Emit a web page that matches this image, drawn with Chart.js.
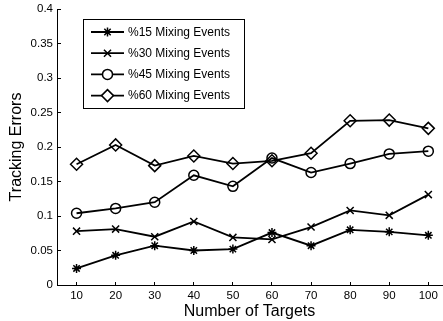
<!DOCTYPE html>
<html>
<head>
<meta charset="utf-8">
<script src="https://cdn.jsdelivr.net/npm/chart.js@4/dist/chart.umd.min.js"></script>
<style>
  html, body { margin: 0; padding: 0; background: #fff; }
  #wrap { width: 443px; height: 321px; }
</style>
</head>
<body>
<div id="wrap"><canvas id="errChart" width="443" height="321"></canvas></div>
<script>
const targets = [10, 20, 30, 40, 50, 60, 70, 80, 90, 100];
const mix15 = [0.024, 0.043, 0.057, 0.050, 0.052, 0.076, 0.057, 0.080, 0.077, 0.072];
const mix30 = [0.078, 0.081, 0.070, 0.092, 0.069, 0.066, 0.084, 0.108, 0.101, 0.131];
const mix45 = [0.104, 0.111, 0.120, 0.159, 0.143, 0.184, 0.163, 0.176, 0.190, 0.194];
const mix60 = [0.175, 0.203, 0.173, 0.187, 0.176, 0.180, 0.191, 0.238, 0.239, 0.227];
const seriesNames = ['%15 Mixing Events', '%30 Mixing Events', '%45 Mixing Events', '%60 Mixing Events'];
const yTicks = [0, 0.05, 0.1, 0.15, 0.2, 0.25, 0.3, 0.35, 0.4];

const FONT = 'Liberation Sans, Arial, Helvetica, sans-serif';

function makeSet(label, values, style, radius) {
    return {
        label: label,
        data: values.map((v, i) => ({ x: targets[i], y: v })),
        borderColor: '#000',
        borderWidth: 1.8,
        pointStyle: style,
        pointRadius: radius,
        pointHoverRadius: radius,
        pointBorderColor: '#000',
        pointBackgroundColor: 'rgba(0,0,0,0)',
        pointBorderWidth: 1.5,
        tension: 0
    };
}

const datasets = [
    makeSet(seriesNames[0], mix15, 'star', 4.5),
    makeSet(seriesNames[1], mix30, 'crossRot', 5),
    makeSet(seriesNames[2], mix45, 'circle', 5),
    makeSet(seriesNames[3], mix60, 'rectRot', 6)
];

// legend box drawn inside the plot, matlab style
const legendPlugin = {
    id: 'boxLegend',
    afterDraw(chart) {
        const ctx = chart.ctx;
        const bx = 83, by = 19, bw = 161, bh = 89;
        ctx.save();
        ctx.fillStyle = '#fff';
        ctx.fillRect(bx, by, bw, bh);
        ctx.strokeStyle = '#000';
        ctx.lineWidth = 1;
        ctx.strokeRect(bx + 0.5, by + 0.5, bw, bh);
        chart.data.datasets.forEach((ds, i) => {
            const y = 32 + i * 21.2;
            ctx.strokeStyle = '#000';
            ctx.lineWidth = ds.borderWidth;
            ctx.beginPath();
            ctx.moveTo(91, y);
            ctx.lineTo(124, y);
            ctx.stroke();
            ctx.fillStyle = '#fff';
            ctx.lineWidth = ds.pointBorderWidth;
            Chart.helpers.drawPoint(ctx, {
                pointStyle: ds.pointStyle,
                radius: ds.pointRadius,
                rotation: 0,
                borderWidth: ds.pointBorderWidth
            }, 107.5, y);
            ctx.fillStyle = '#000';
            ctx.font = '12px ' + FONT;
            ctx.textAlign = 'left';
            ctx.textBaseline = 'middle';
            ctx.fillText(ds.label, 128, y + 0.5);
        });
        ctx.restore();
    }
};

const axisGrid = { display: true, drawOnChartArea: false, drawTicks: true, tickLength: -3, color: '#000', lineWidth: 1 };
const axisBorder = { display: true, color: '#000', width: 1 };

new Chart(document.getElementById('errChart').getContext('2d'), {
    type: 'line',
    data: { datasets: datasets },
    plugins: [legendPlugin],
    options: {
        responsive: false,
        animation: false,
        layout: { autoPadding: false, padding: { top: 9, right: 1, left: 0, bottom: 0 } },
        plugins: { legend: { display: false }, tooltip: { enabled: false } },
        scales: {
            x: {
                type: 'linear',
                min: 5,
                max: 103.5,
                afterBuildTicks: s => { s.ticks = targets.map(v => ({ value: v })); },
                afterFit: s => { s.height = 36; s.paddingLeft = 0; s.paddingRight = 0; },
                grid: axisGrid,
                border: axisBorder,
                ticks: { color: '#000', font: { family: FONT, size: 11.5 }, padding: 7, maxRotation: 0 },
                title: { display: true, text: 'Number of Targets', color: '#000', font: { family: FONT, size: 16 }, padding: { top: 0, bottom: 0 } }
            },
            y: {
                min: 0,
                max: 0.4,
                afterBuildTicks: s => { s.ticks = yTicks.map(v => ({ value: v })); },
                afterFit: s => { s.width = 57; s.paddingTop = 0; s.paddingBottom = 0; },
                grid: Object.assign({}, axisGrid, { tickLength: -4 }),
                border: axisBorder,
                ticks: { color: '#000', font: { family: FONT, size: 11.5 }, padding: 8, callback: v => String(+v.toFixed(2)) },
                title: { display: true, text: 'Tracking Errors', color: '#000', font: { family: FONT, size: 16 }, padding: { top: 7, bottom: 0 } }
            }
        }
    }
});
</script>
</body>
</html>
